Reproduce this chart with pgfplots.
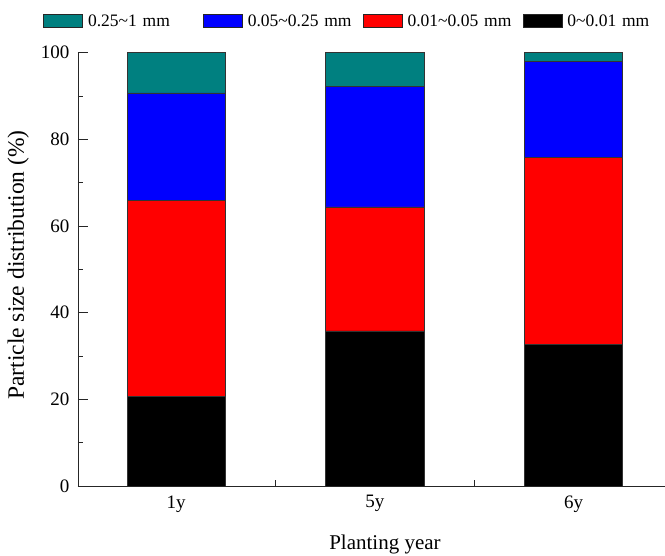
\documentclass[border=0pt]{standalone}
\usepackage{fontspec}
\setmainfont{Liberation Serif}
\usepackage{pgfplots}
\pgfplotsset{compat=1.18}
\definecolor{cteal}{RGB}{0,128,128}
\definecolor{cblue}{RGB}{0,0,255}
\definecolor{cred}{RGB}{255,0,0}
\begin{document}
\begin{tikzpicture}[x=1pt,y=1pt]
\useasboundingbox[fill=white] (0,0) rectangle (665,556);
\begin{axis}[
  at={(78pt,70pt)}, anchor=south west,
  scale only axis, width=587pt, height=433.3pt,
  ybar stacked, bar width=0.494,
  xmin=-0.494, xmax=2.46, ymin=0, ymax=100,
  axis x line*=bottom, axis y line*=left,
  axis line style={line width=0.9pt, black!85},
  xtick={0,1,2}, xticklabels={1y,5y,6y},
  minor xtick={0.5,1.5},
  ytick={0,20,40,60,80,100}, minor ytick={10,30,50,70,90},
  tick align=inside,
  major tick length=10pt, minor tick length=5.5pt,
  tick style={line width=0.9pt, black!85},
  /pgf/number format/assume math mode=true,
  tick label style={font=\fontsize{19}{21}\selectfont},
  xticklabel style={yshift=-6pt},
  yticklabel style={xshift=-5pt},
  xlabel={Planting year}, ylabel={Particle size distribution (\%)},
  xlabel style={font=\fontsize{21}{24}\selectfont, at={(axis description cs:0.523,-0.136)}, anchor=center},
  ylabel style={font=\fontsize{23.5}{26}\selectfont, at={(axis description cs:-0.102,0.51)}, anchor=center},
  reverse legend,
  legend columns=4,
  legend style={at={(axis description cs:-0.0596,1.073)}, anchor=west, draw=none, fill=none,
    inner sep=0pt, font=\fontsize{17.5}{19}\selectfont,
    nodes={text width=110pt, align=left, inner xsep=5pt},
    /tikz/every odd column/.append style={column sep=0pt},
    /tikz/every even column/.append style={column sep=0pt}},
  legend image code/.code={\draw[#1, draw=black!85, line width=0.8pt] (0pt,-6.5pt) rectangle (39pt,6.5pt);},
  every axis plot/.append style={draw=black!80, line width=0.7pt},
]
\addplot[fill=black] coordinates {(0,20.6) (1,35.8) (2,32.7)};
\addplot[fill=cred] coordinates {(0,45.3) (1,28.6) (2,43.1)};
\addplot[fill=cblue] coordinates {(0,24.8) (1,27.9) (2,22.2)};
\addplot[fill=cteal] coordinates {(0,9.3) (1,7.7) (2,2.0)};
\legend{0\textasciitilde 0.01 mm, 0.01\textasciitilde 0.05 mm, 0.05\textasciitilde 0.25 mm, 0.25\textasciitilde 1 mm}
\end{axis}
\end{tikzpicture}
\end{document}
